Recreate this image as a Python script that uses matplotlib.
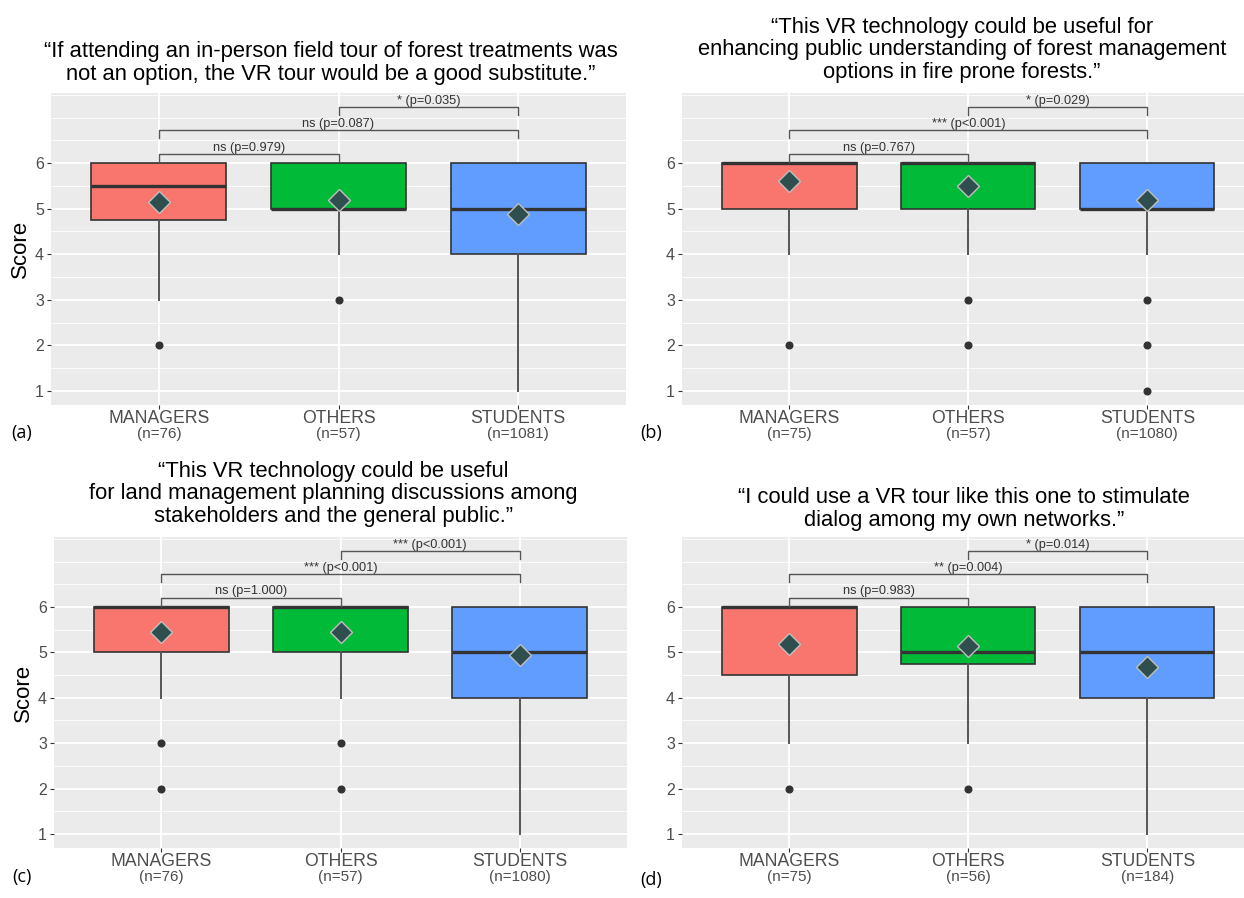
import matplotlib

matplotlib.use("Agg")
import matplotlib.pyplot as plt  # noqa: E402

plt.rcParams["font.family"] = ["Liberation Sans", "DejaVu Sans"]

# ---------------------------------------------------------------------------
# Data
# ---------------------------------------------------------------------------

GROUPS = ["MANAGERS", "OTHERS", "STUDENTS"]
PANEL_TAGS = ["(a)", "(b)", "(c)", "(d)"]

TITLES = [
    "\u201cIf attending an in-person field tour of forest treatments was\n"
    "not an option, the VR tour would be a good substitute.\u201d",
    "\u201cThis VR technology could be useful for\n"
    "enhancing public understanding of forest management\n"
    "options in fire prone forests.\u201d",
    "\u201cThis VR technology could be useful\n"
    "for land management planning discussions among\n"
    "stakeholders and the general public.\u201d",
    "\u201cI could use a VR tour like this one to stimulate\n"
    "dialog among my own networks.\u201d",
]

N_RESP = [[76, 57, 1081], [75, 57, 1080], [76, 57, 1080], [75, 56, 184]]
Q1 = [[4.75, 5, 4], [5, 5, 5], [5, 5, 4], [4.5, 4.75, 4]]
MEDIAN = [[5.5, 5, 5], [6, 6, 5], [6, 6, 5], [6, 5, 5]]
Q3 = [[6, 6, 6], [6, 6, 6], [6, 6, 6], [6, 6, 6]]
WHISK_LO = [[3, 4, 1], [4, 4, 4], [4, 4, 1], [3, 3, 1]]
WHISK_HI = [[6, 6, 6], [6, 6, 6], [6, 6, 6], [6, 6, 6]]
OUTLIERS = [
    [[2], [3], []],
    [[2], [3, 2], [3, 2, 1]],
    [[3, 2], [3, 2], []],
    [[2], [2], []],
]
MEANS = [
    [5.15, 5.19, 4.89],
    [5.60, 5.49, 5.18],
    [5.45, 5.45, 4.94],
    [5.18, 5.14, 4.67],
]

# pairwise comparisons: (group i, group j) -> label, bottom to top
PAIRS = [(1, 2), (1, 3), (2, 3)]
PAIR_Y = [6.2, 6.72, 7.23]
P_LABELS = [
    ["ns (p=0.979)", "ns (p=0.087)", "* (p=0.035)"],
    ["ns (p=0.767)", "*** (p<0.001)", "* (p=0.029)"],
    ["ns (p=1.000)", "*** (p<0.001)", "*** (p<0.001)"],
    ["ns (p=0.983)", "** (p=0.004)", "* (p=0.014)"],
]

FILLS = ["#F8766D", "#00BA38", "#619CFF"]

# ---------------------------------------------------------------------------
# Layout (pixels of the 1244x898 canvas)
# ---------------------------------------------------------------------------

W, H = 1244, 898
PANELS = [  # left, top, right, bottom, xmax
    (51, 93, 626, 405, 3.6),
    (682, 93, 1244, 405, 3.54),
    (54, 537, 627, 848, 3.6),
    (682, 537, 1244, 848, 3.54),
]
TITLE_POS = [(331, 63), (962, 50), (333, 494), (964, 509)]
TAG_POS = [(22, 433), (651, 433), (22, 877), (651, 880)]
YLIM = (0.69, 7.54)


def fx(x):
    return x / W


def fy(y):
    return 1 - y / H


fig = plt.figure(figsize=(W / 100, H / 100), dpi=100)

for k in range(4):
    left, top, right, bottom, xmax = PANELS[k]
    ax = fig.add_axes([fx(left), fy(bottom), (right - left) / W, (bottom - top) / H])
    ax.set_facecolor("#EBEBEB")
    for s in ax.spines.values():
        s.set_visible(False)
    ax.set_xlim(0.4, xmax)
    ax.set_ylim(*YLIM)

    # ggplot-like grid
    for v in [1.5, 2.5, 3.5, 4.5, 5.5, 6.5, 7.0, 7.5]:
        ax.axhline(v, color="white", lw=0.6, zorder=0)
    for v in range(1, 7):
        ax.axhline(v, color="white", lw=1.3, zorder=0)
    for v in (1, 2, 3):
        ax.axvline(v, color="white", lw=1.3, zorder=0)

    stats = []
    for g in range(3):
        stats.append(
            dict(
                med=MEDIAN[k][g],
                q1=Q1[k][g],
                q3=Q3[k][g],
                whislo=WHISK_LO[k][g],
                whishi=WHISK_HI[k][g],
                fliers=OUTLIERS[k][g],
                mean=MEANS[k][g],
            )
        )
    bp = ax.bxp(
        stats,
        positions=[1, 2, 3],
        widths=0.75,
        patch_artist=True,
        showmeans=True,
        showcaps=False,
        boxprops=dict(edgecolor="#333333", linewidth=1.2),
        medianprops=dict(color="#333333", linewidth=2.4, solid_capstyle="butt"),
        whiskerprops=dict(color="#555555", linewidth=1.4),
        flierprops=dict(marker="o", markersize=4.8, markerfacecolor="#333333",
                        markeredgecolor="#333333"),
        meanprops=dict(marker="D", markersize=11.5, markerfacecolor="#2F4F4F",
                       markeredgecolor="#BFBFBF", markeredgewidth=1.0),
    )
    for patch, c in zip(bp["boxes"], FILLS):
        patch.set_facecolor(c)

    # significance brackets
    tip = 0.17
    for (i, j), y, lab in zip(PAIRS, PAIR_Y, P_LABELS[k]):
        ax.plot([i, i, j, j], [y - tip, y, y, y - tip], color="#555555", lw=1.0,
                zorder=4)
        ax.text((i + j) / 2, y + 0.01, lab, ha="center", va="bottom",
                fontsize=9.2, color="#333333")

    ax.set_yticks(range(1, 7))
    ax.set_xticks([1, 2, 3])
    ax.set_xticklabels([])
    ax.tick_params(colors="#333333", length=3, width=0.8, labelcolor="#4D4D4D",
                   labelsize=11.5, pad=2)

    for g in range(3):
        ax.annotate(GROUPS[g], xy=(g + 1, 0), xycoords=("data", "axes fraction"),
                    xytext=(0, -3.5), textcoords="offset points", ha="center",
                    va="top", fontsize=12.7, color="#4D4D4D")
        ax.annotate(f"(n={N_RESP[k][g]})", xy=(g + 1, 0),
                    xycoords=("data", "axes fraction"), xytext=(0, -15.5),
                    textcoords="offset points", ha="center", va="top",
                    fontsize=11, color="#4D4D4D")

    if k in (0, 2):
        ax.set_ylabel("Score", fontsize=16, color="black", labelpad=3)

    tx, ty = TITLE_POS[k]
    fig.text(fx(tx), fy(ty), TITLES[k], ha="center", va="center", fontsize=15.8,
             linespacing=1.1, color="black")
    gx, gy = TAG_POS[k]
    fig.text(fx(gx), fy(gy), PANEL_TAGS[k], ha="center", va="center",
             fontsize=13, color="black", family=["Open Sans", "DejaVu Sans"])

fig.savefig("out.png", dpi=100)
